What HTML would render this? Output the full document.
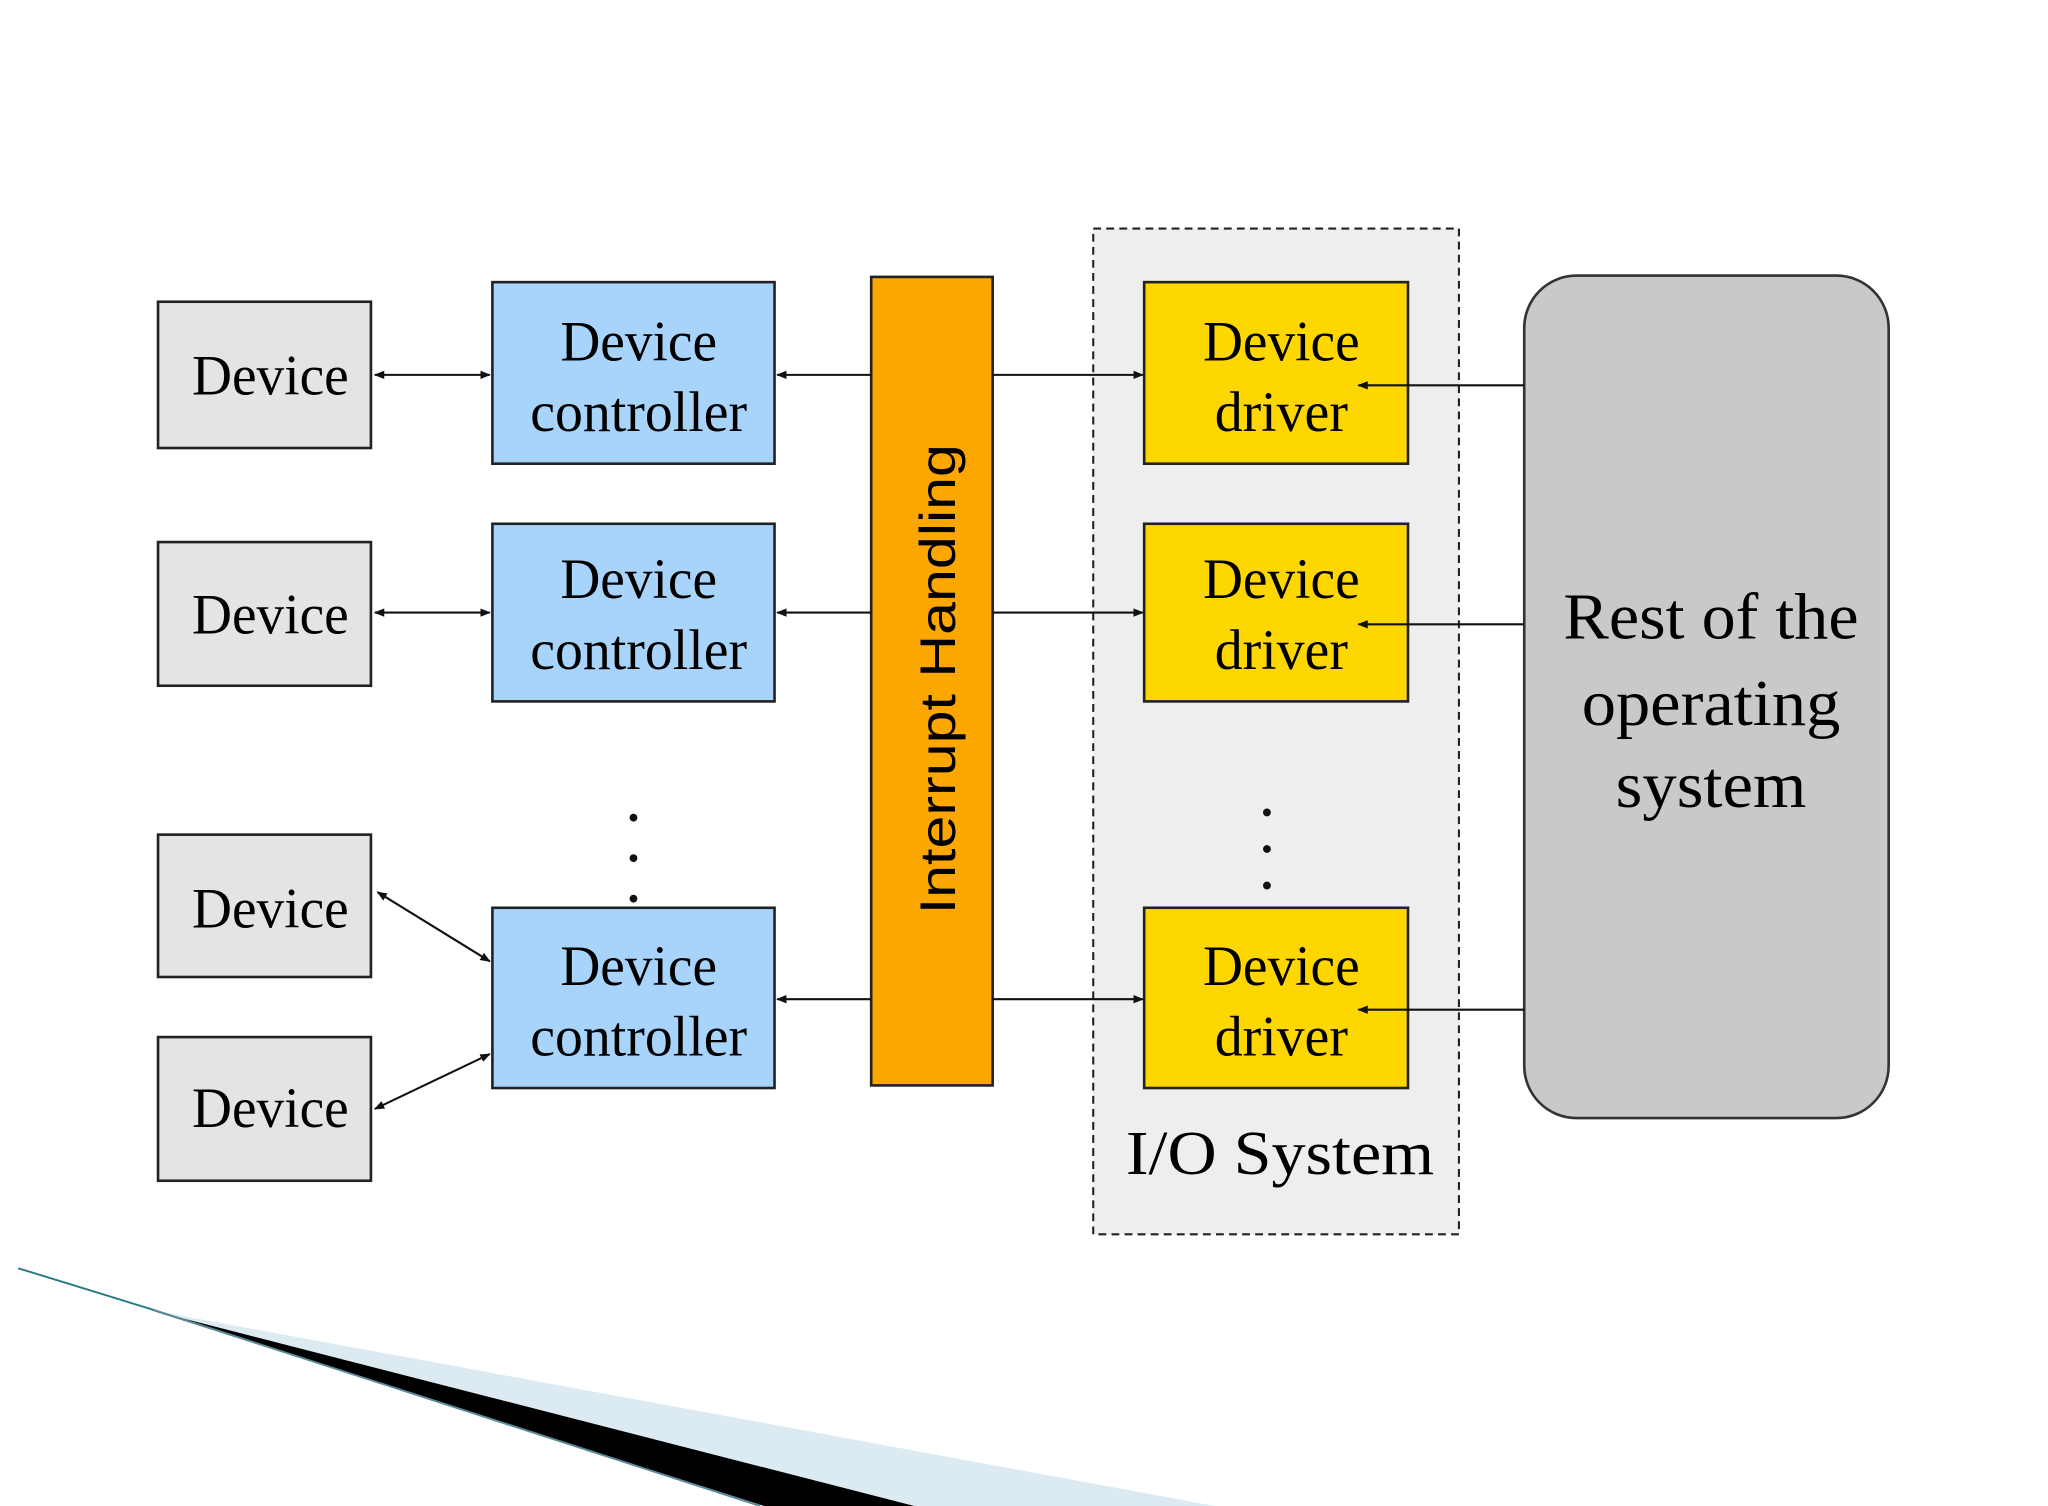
<!DOCTYPE html>
<html><head><meta charset="utf-8"><style>html,body{margin:0;padding:0;background:#fff}svg{display:block}</style></head>
<body>
<svg width="2048" height="1506" viewBox="0 0 1568 1153" xmlns="http://www.w3.org/2000/svg">
<defs>
<marker id="a" viewBox="0 0 10 10" refX="9" refY="5" markerWidth="5" markerHeight="5" orient="auto-start-reverse"><path d="M0,1 L10,5 L0,9 z" fill="#111"/></marker>
</defs>
<rect width="1568" height="1153" fill="#fff"/>
<!-- dashed IO system -->
<rect x="837" y="175" width="280" height="770" fill="#efeeef" stroke="#222" stroke-width="1.6" stroke-dasharray="6,4"/>
<g font-family="Liberation Serif, serif" font-size="44" fill="#000" text-anchor="middle">
<!-- devices -->
<g fill="#e4e4e4" stroke="#222" stroke-width="2">
<rect x="121" y="231" width="163" height="112"/>
<rect x="121" y="415" width="163" height="110"/>
<rect x="121" y="639" width="163" height="109"/>
<rect x="121" y="794" width="163" height="110"/>
</g>
<text x="207" y="302" textLength="120" lengthAdjust="spacingAndGlyphs">Device</text>
<text x="207" y="485" textLength="120" lengthAdjust="spacingAndGlyphs">Device</text>
<text x="207" y="710" textLength="120" lengthAdjust="spacingAndGlyphs">Device</text>
<text x="207" y="863" textLength="120" lengthAdjust="spacingAndGlyphs">Device</text>
<!-- controllers -->
<g fill="#a8d4fb" stroke="#222" stroke-width="2">
<rect x="377" y="216" width="216" height="139"/>
<rect x="377" y="401" width="216" height="136"/>
<rect x="377" y="695" width="216" height="138"/>
</g>
<text x="489" y="276" textLength="120" lengthAdjust="spacingAndGlyphs">Device</text>
<text x="489" y="330" textLength="166" lengthAdjust="spacingAndGlyphs">controller</text>
<text x="489" y="458" textLength="120" lengthAdjust="spacingAndGlyphs">Device</text>
<text x="489" y="512" textLength="166" lengthAdjust="spacingAndGlyphs">controller</text>
<text x="489" y="754" textLength="120" lengthAdjust="spacingAndGlyphs">Device</text>
<text x="489" y="808" textLength="166" lengthAdjust="spacingAndGlyphs">controller</text>
<!-- drivers -->
<g fill="#fed700" stroke="#222" stroke-width="2">
<rect x="876" y="216" width="202" height="139"/>
<rect x="876" y="401" width="202" height="136"/>
<rect x="876" y="695" width="202" height="138"/>
</g>
<text x="981" y="276" textLength="120" lengthAdjust="spacingAndGlyphs">Device</text>
<text x="981" y="330" textLength="102" lengthAdjust="spacingAndGlyphs">driver</text>
<text x="981" y="458" textLength="120" lengthAdjust="spacingAndGlyphs">Device</text>
<text x="981" y="512" textLength="102" lengthAdjust="spacingAndGlyphs">driver</text>
<text x="981" y="754" textLength="120" lengthAdjust="spacingAndGlyphs">Device</text>
<text x="981" y="808" textLength="102" lengthAdjust="spacingAndGlyphs">driver</text>
<!-- rest -->
<rect x="1167" y="211" width="279" height="645" rx="40" fill="#c9c9c9" stroke="#333" stroke-width="2"/>
<text x="1310" y="489" font-size="50" textLength="226" lengthAdjust="spacingAndGlyphs">Rest of the</text>
<text x="1310" y="555" font-size="50" textLength="198" lengthAdjust="spacingAndGlyphs">operating</text>
<text x="1310" y="618" font-size="50" textLength="146" lengthAdjust="spacingAndGlyphs">system</text>
<text x="980" y="899" font-size="48" textLength="236" lengthAdjust="spacingAndGlyphs">I/O System</text>
</g>
<!-- interrupt -->
<rect x="667" y="212" width="93" height="619" fill="#fca600" stroke="#222" stroke-width="2"/>
<text transform="translate(731,520) rotate(-90)" font-family="Liberation Sans, sans-serif" font-size="38" text-anchor="middle" fill="#000" textLength="360" lengthAdjust="spacingAndGlyphs">Interrupt Handling</text>
<!-- connectors -->
<g stroke="#111" stroke-width="1.6" fill="none">
<line x1="287" y1="287" x2="375" y2="287" marker-start="url(#a)" marker-end="url(#a)"/>
<line x1="287" y1="469" x2="375" y2="469" marker-start="url(#a)" marker-end="url(#a)"/>
<line x1="289" y1="683" x2="375" y2="736" marker-start="url(#a)" marker-end="url(#a)"/>
<line x1="287" y1="849" x2="375" y2="807" marker-start="url(#a)" marker-end="url(#a)"/>
<line x1="667" y1="287" x2="595" y2="287" marker-end="url(#a)"/>
<line x1="667" y1="469" x2="595" y2="469" marker-end="url(#a)"/>
<line x1="667" y1="765" x2="595" y2="765" marker-end="url(#a)"/>
<line x1="760" y1="287" x2="875" y2="287" marker-end="url(#a)"/>
<line x1="760" y1="469" x2="875" y2="469" marker-end="url(#a)"/>
<line x1="760" y1="765" x2="875" y2="765" marker-end="url(#a)"/>
<line x1="1167" y1="295" x2="1040" y2="295" marker-end="url(#a)"/>
<line x1="1167" y1="478" x2="1040" y2="478" marker-end="url(#a)"/>
<line x1="1167" y1="773" x2="1040" y2="773" marker-end="url(#a)"/>
</g>
<g fill="#111">
<circle cx="485" cy="626" r="3"/><circle cx="485" cy="657" r="3"/><circle cx="485" cy="688" r="3"/>
<circle cx="970" cy="622" r="3"/><circle cx="970" cy="650" r="3"/><circle cx="970" cy="678" r="3"/>
</g>
<!-- bottom decoration -->
<polygon points="115,1003 930,1153 700,1153" fill="#dceaf2"/>
<polygon points="115,1003 700,1153 585,1153" fill="#000"/>
<line x1="14" y1="971" x2="118" y2="1003" stroke="#2a7a86" stroke-width="1.5"/>
<line x1="118" y1="1003" x2="582" y2="1153" stroke="#5a8a96" stroke-width="1.5"/>
</svg>
</body></html>
